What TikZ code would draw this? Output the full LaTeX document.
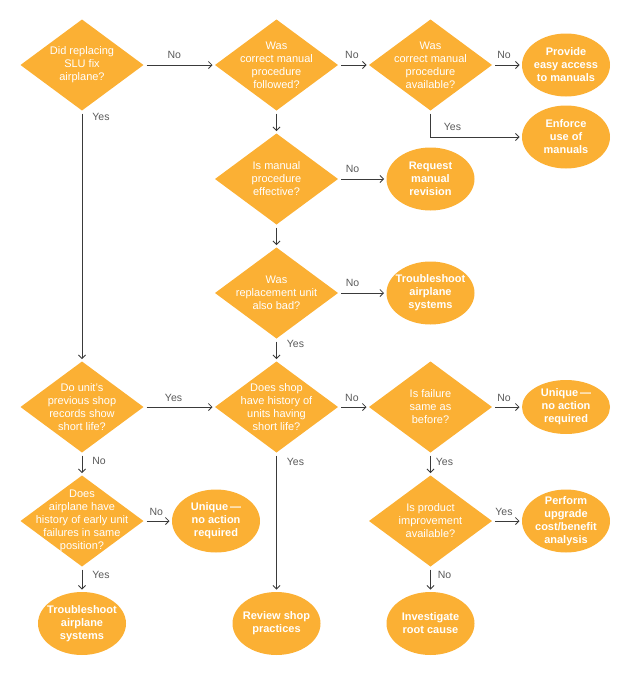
\documentclass[tikz,border=0pt]{standalone}
\usepackage{fontspec}
\setmainfont{Liberation Sans}
\usetikzlibrary{shapes.geometric,arrows.meta}
\definecolor{orng}{HTML}{FBB034}
\definecolor{lnc}{HTML}{3A3A3A}
\definecolor{lblc}{HTML}{5A5A5A}
\tikzset{
  dq/.style={diamond, fill=orng, draw=none, minimum width=123pt, minimum height=91pt, inner sep=0pt, outer sep=0pt},
  dtxt/.style={text=white, font=\fontsize{11}{13}\selectfont, align=center, inner sep=0pt},
  ov/.style={ellipse, fill=orng, draw=none, minimum width=88pt, minimum height=63pt, inner sep=0pt, outer sep=0pt},
  otxt/.style={text=white, font=\fontsize{11}{13}\selectfont\bfseries, align=center, inner sep=0pt},
  conn/.style={draw=lnc, line width=0.8pt, -{Straight Barb[length=3.5pt,width=7pt]}, shorten <=3pt, shorten >=2.5pt},
  lbl/.style={text=lblc, font=\fontsize{10.5}{12}\selectfont, inner sep=1pt},
}
\begin{document}
\begin{tikzpicture}[x=1pt,y=-1pt]
\useasboundingbox (0,0) rectangle (630,675);

% diamonds
\node[dq] (d1) at (82,65) {};
\node[dtxt] (d1t) at (d1) {Did replacing\\SLU fix\\airplane?};
\node[dq] (d2) at (276.5,65) {};
\node[dtxt] (d2t) at (d2) {Was\\correct manual\\procedure\\followed?};
\node[dq] (d3) at (430.5,65) {};
\node[dtxt] (d3t) at (d3) {Was\\correct manual\\procedure\\available?};
\node[dq] (d4) at (276.5,179) {};
\node[dtxt] (d4t) at (d4) {Is manual\\procedure\\effective?};
\node[dq] (d5) at (276.5,293) {};
\node[dtxt] (d5t) at (d5) {Was\\replacement unit\\also bad?};
\node[dq] (d6) at (82,407) {};
\node[dtxt] (d6t) at (d6) {Do unit's\\previous shop\\records show\\short life?};
\node[dq] (d7) at (276.5,407) {};
\node[dtxt] (d7t) at (d7) {Does shop\\have history of\\units having\\short life?};
\node[dq] (d8) at (430.5,407) {};
\node[dtxt] (d8t) at (d8) {Is failure\\same as\\before?};
\node[dq] (d9) at (82,521) {};
\node[dtxt] (d9t) at (d9) {Does\\airplane have\\history of early unit\\failures in same\\position?};
\node[dq] (d10) at (430.5,521) {};
\node[dtxt] (d10t) at (d10) {Is product\\improvement\\available?};

% ellipses
\node[ov] (e1) at (566,65) {};
\node[otxt] (e1t) at (e1) {Provide\\easy access\\to manuals};
\node[ov] (e2) at (566,137) {};
\node[otxt] (e2t) at (e2) {Enforce\\use of\\manuals};
\node[ov] (e3) at (430.5,179) {};
\node[otxt] (e3t) at (e3) {Request\\manual\\revision};
\node[ov] (e4) at (430.5,293) {};
\node[otxt] (e4t) at (e4) {Troubleshoot\\airplane\\systems};
\node[ov, minimum height=54pt] (e5) at (566,407) {};
\node[otxt] (e5t) at (e5) {Unique\,—\\no action\\required};
\node[ov] (e6) at (216,521) {};
\node[otxt] (e6t) at (e6) {Unique\,—\\no action\\required};
\node[ov] (e7) at (566,521) {};
\node[otxt] (e7t) at (e7) {Perform\\upgrade\\cost/benefit\\analysis};
\node[ov] (e8) at (82,623.5) {};
\node[otxt] (e8t) at (e8) {Troubleshoot\\airplane\\systems};
\node[ov] (e9) at (276.5,623.5) {};
\node[otxt] (e9t) at (e9) {Review shop\\practices};
\node[ov] (e10) at (430.5,623.5) {};
\node[otxt] (e10t) at (e10) {Investigate\\root cause};

% connectors
\draw[conn] (d1.east) -- node[lbl, pos=0.43, above=5pt] {No} (d2.west);
\draw[conn] (d2.east) -- node[lbl, pos=0.45, above=5pt] {No} (d3.west);
\draw[conn] (d3.east) -- node[lbl, pos=0.4, above=5pt] {No} (e1.west);
\draw[conn] (d3.south) |- node[lbl, pos=0.62, above=5pt] {Yes} (e2.west);
\draw[conn] (d2.south) -- (d4.north);
\draw[conn] (d4.east) -- node[lbl, pos=0.3, above=5pt] {No} (e3.west);
\draw[conn] (d4.south) -- (d5.north);
\draw[conn] (d5.east) -- node[lbl, pos=0.3, above=5pt] {No} (e4.west);
\draw[conn] (d5.south) -- node[lbl, pos=0.25, anchor=west, xshift=9pt] {Yes} (d7.north);
\draw[conn] (d1.south) -- node[lbl, pos=0.026, anchor=west, xshift=9pt] {Yes} (d6.north);
\draw[conn] (d6.east) -- node[lbl, pos=0.42, above=4pt] {Yes} (d7.west);
\draw[conn] (d7.east) -- node[lbl, pos=0.45, above=4pt] {No} (d8.west);
\draw[conn] (d8.east) -- node[lbl, pos=0.4, above=4pt] {No} (e5.west);
\draw[conn] (d6.south) -- node[lbl, pos=0.37, anchor=west, xshift=9pt] {No} (d9.north);
\draw[conn] (d9.east) -- node[lbl, pos=0.45, above=4pt] {No} (e6.west);
\draw[conn] (d7.south) -- node[lbl, pos=0.07, anchor=west, xshift=9pt] {Yes} (e9.north);
\draw[conn] (d8.south) -- node[lbl, pos=0.4, anchor=west, xshift=4pt] {Yes} (d10.north);
\draw[conn] (d10.east) -- node[lbl, pos=0.4, above=4pt] {Yes} (e7.west);
\draw[conn] (d9.south) -- node[lbl, pos=0.33, anchor=west, xshift=9pt] {Yes} (e8.north);
\draw[conn] (d10.south) -- node[lbl, pos=0.33, anchor=west, xshift=6pt] {No} (e10.north);
\end{tikzpicture}
\end{document}
